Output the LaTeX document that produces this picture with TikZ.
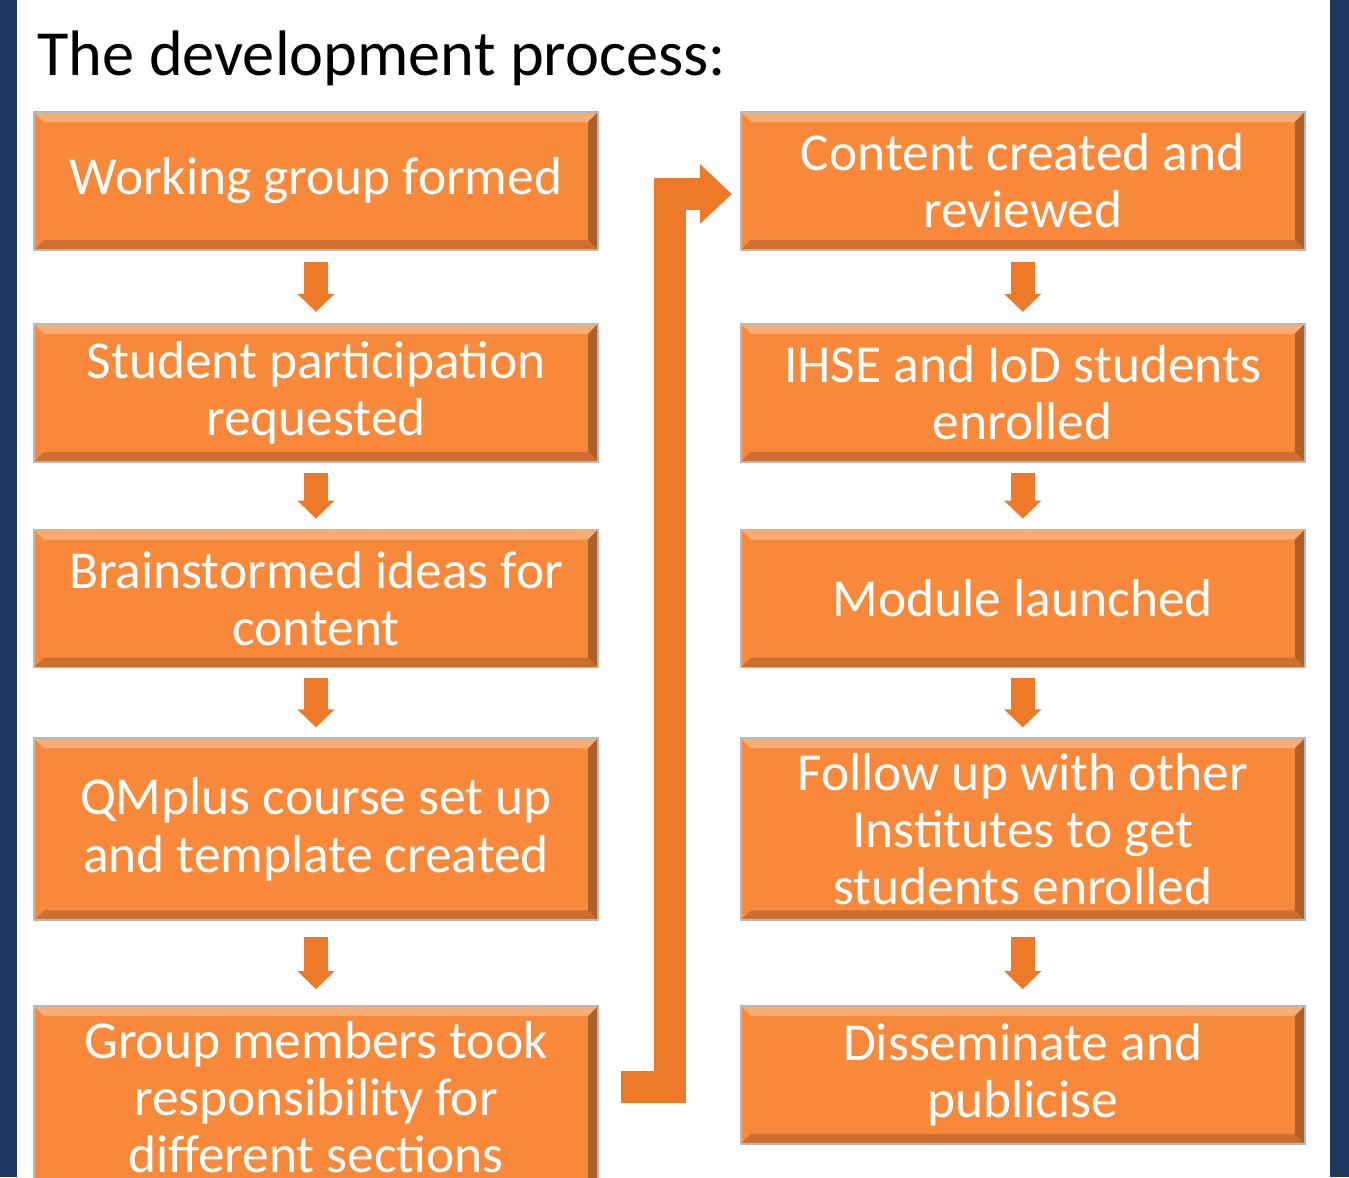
\documentclass[tikz,border=0pt]{standalone}
\usepackage{fontspec}
\setmainfont{Carlito}
\usepackage{xcolor}
\usepackage{tikz}
\usetikzlibrary{positioning,arrows.meta}
\definecolor{boxorange}{RGB}{248,137,58}
\definecolor{arroworange}{RGB}{236,122,40}
\definecolor{boxedge}{RGB}{185,185,185}
\definecolor{navyframe}{RGB}{31,56,100}

\begin{document}
\begin{tikzpicture}[node distance=1.4cm,
  stagebox/.style={draw=boxedge, line width=1pt, fill=boxorange, text=white,
    minimum width=11.28cm, minimum height=2.76cm, inner sep=0pt, align=center,
    font=\fontsize{30.4}{32.5}\selectfont,
    path picture={
      \fill[boxorange!70!white] (path picture bounding box.north west) -- (path picture bounding box.north east)
        -- ++(-0.2,-0.2) -- ([shift={(0.2,-0.2)}]path picture bounding box.north west) -- cycle;
      \fill[boxorange!70!black] (path picture bounding box.south east) -- (path picture bounding box.north east)
        -- ++(-0.2,-0.2) -- ([shift={(-0.2,0.2)}]path picture bounding box.south east) -- cycle;
      \fill[boxorange!82!black] (path picture bounding box.south west) -- (path picture bounding box.south east)
        -- ++(-0.2,0.2) -- ([shift={(0.2,0.2)}]path picture bounding box.south west) -- cycle;
    }},
  tallbox/.style={stagebox, minimum height=3.64cm},
  downarrow/.style={draw=arroworange, line width=0.48cm, -{Triangle[width=0.72cm,length=0.36cm]}},
  bentarrow/.style={draw=arroworange, line width=0.64cm, line join=miter, -{Triangle[width=1.16cm,length=0.64cm]}}]
  \useasboundingbox (0,0) rectangle (26.98,-23.54);
  \clip (0,0) rectangle (26.98,-23.54);
  \fill[white] (0,0) rectangle (26.98,-23.54);
  % side bars
  \fill[navyframe] (0,0) rectangle (0.33,-23.54);
  \fill[navyframe] (26.6,0) rectangle (26.98,-23.54);

  \node[anchor=base west, inner sep=0pt, font=\fontsize{36.6}{44}\selectfont] (title) at (0.74,-1.5) {The development process:};

  % left column
  \node[stagebox] (working) at (6.32,-3.62) {Working group formed};
  \node[stagebox, below=1.44cm of working] (student) {Student participation\\requested};
  \node[stagebox, below=1.32cm of student] (brainstorm) {Brainstormed ideas for\\content};
  \node[tallbox, below=1.38cm of brainstorm] (qmplus) {QMplus course set up\\and template created};
  \node[tallbox, below=1.68cm of qmplus] (group) {Group members took\\responsibility for\\different sections};

  % right column
  \node[stagebox, right=2.82cm of working] (content) {Content created and\\reviewed};
  \node[stagebox, below=1.44cm of content] (enrolled) {IHSE and IoD students\\enrolled};
  \node[stagebox, below=1.32cm of enrolled] (launched) {Module launched};
  \node[tallbox, below=1.38cm of launched] (followup) {Follow up with other\\Institutes to get\\students enrolled};
  \node[stagebox, below=1.68cm of followup] (publicise) {Disseminate and\\publicise};

  \draw[downarrow] ([yshift=-0.22cm]working.south) -- ([yshift=0.22cm]student.north);
  \draw[downarrow] ([yshift=-0.2cm]student.south) -- ([yshift=0.2cm]brainstorm.north);
  \draw[downarrow] ([yshift=-0.2cm]brainstorm.south) -- ([yshift=0.2cm]qmplus.north);
  \draw[downarrow] ([yshift=-0.32cm]qmplus.south) -- ([yshift=0.32cm]group.north);
  \draw[downarrow] ([yshift=-0.22cm]content.south) -- ([yshift=0.22cm]enrolled.north);
  \draw[downarrow] ([yshift=-0.2cm]enrolled.south) -- ([yshift=0.2cm]launched.north);
  \draw[downarrow] ([yshift=-0.2cm]launched.south) -- ([yshift=0.2cm]followup.north);
  \draw[downarrow] ([yshift=-0.32cm]followup.south) -- ([yshift=0.32cm]publicise.north);

  % bent arrow from left column to right column
  \coordinate (bendstart) at (12.42,-21.74);
  \coordinate (bendtop) at (13.40,-3.88);
  \draw[bentarrow] (bendstart) -| (bendtop) -- ([xshift=-0.16cm]content.west |- bendtop);
\end{tikzpicture}
\end{document}
